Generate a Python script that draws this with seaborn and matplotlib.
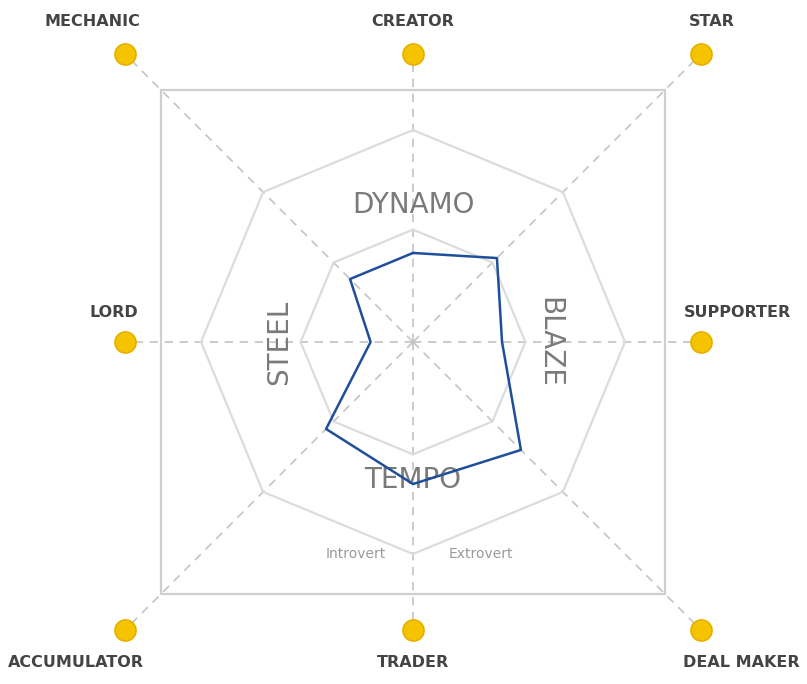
import numpy as np
import pandas as pd
import matplotlib.pyplot as plt
import seaborn as sns

# axis order, clockwise from the top
categories = ['CREATOR', 'STAR', 'SUPPORTER', 'DEAL MAKER',
              'TRADER', 'ACCUMULATOR', 'LORD', 'MECHANIC']
angles_deg = [90, 45, 0, -45, -90, -135, 180, 135]
scores = [42, 56, 42, 72, 67, 58, 20, 42]
groups = ['DYNAMO', 'BLAZE', 'TEMPO', 'STEEL']
sub_labels = ['Introvert', 'Extrovert']

sns.set_theme(style='white')
plt.rcParams['font.family'] = ['DejaVu Sans']

PX = 2.12  # pixels per score unit
fig = plt.figure(figsize=(8.07, 6.84), dpi=100)
ax = fig.add_axes([0, 0, 1, 1])
ax.set_xlim(-413 / PX, 394 / PX)
ax.set_ylim(-342 / PX, 342 / PX)
ax.axis('off')

theta = np.deg2rad(angles_deg)
ux, uy = np.cos(theta), np.sin(theta)


def outline(df, color, lw, z):
    sns.lineplot(data=df, x='x', y='y', sort=False, estimator=None,
                 color=color, lw=lw, ax=ax, zorder=z)


# outer square
sq = 119
sq_df = pd.DataFrame({'x': [-sq, sq, sq, -sq, -sq], 'y': [sq, sq, -sq, -sq, sq]})
outline(sq_df, '#cfcfcf', 1.6, 2)

# octagon rings
for r in [53, 100]:
    oct_df = pd.DataFrame({'x': np.append(r * ux, r * ux[0]),
                           'y': np.append(r * uy, r * uy[0])})
    outline(oct_df, '#dcdcdc', 1.6, 2)

# dashed spokes to the yellow dots (dots sit on a square)
dot_r = 136
m = np.maximum(np.abs(ux), np.abs(uy))
dx, dy = dot_r * ux / m, dot_r * uy / m
for x1, y1 in zip(dx, dy):
    ax.plot([0, x1], [0, y1], color='#c4c4c4', lw=1.2, ls=(0, (5, 4)), zorder=1)

dots = pd.DataFrame({'x': dx, 'y': dy, 'cat': categories})
sns.scatterplot(data=dots, x='x', y='y', s=230, color='#f5c400',
                edgecolor='#e6b000', linewidth=1.2, ax=ax, zorder=5)

# category labels
label_pos = {
    'CREATOR': (0, 151), 'STAR': (141, 151),
    'SUPPORTER': (153, 14), 'DEAL MAKER': (155, -151),
    'TRADER': (0, -151), 'ACCUMULATOR': (-159, -151),
    'LORD': (-141, 14), 'MECHANIC': (-151, 151),
}
for cat in categories:
    x, y = label_pos[cat]
    ax.text(x, y, cat, ha='center', va='center', fontsize=11.5, color='#444444',
            fontweight='bold')

# group labels
gkw = dict(ha='center', va='center', fontsize=20, color='#7a7a7a')
ax.text(0, 64.5, groups[0], **gkw)
ax.text(64.5, 0, groups[1], rotation=-90, **gkw)
ax.text(0, -65, groups[2], **gkw)
ax.text(-63, 0, groups[3], rotation=90, **gkw)
ax.text(-27, -100, sub_labels[0], ha='center', va='center', fontsize=10, color='#9a9a9a')
ax.text(32, -100, sub_labels[1], ha='center', va='center', fontsize=10, color='#9a9a9a')

# profile polygon
sc = np.array(scores, dtype=float)
prof = pd.DataFrame({'x': np.append(sc * ux, sc[0] * ux[0]),
                     'y': np.append(sc * uy, sc[0] * uy[0])})
outline(prof, '#1f4f9c', 1.8, 6)

fig.savefig('out.png', dpi=100)
